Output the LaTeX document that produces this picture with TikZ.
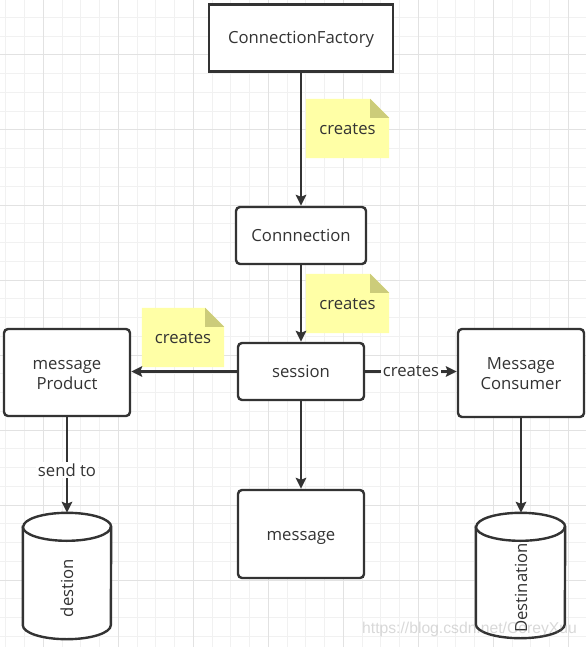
\documentclass[tikz,border=0pt]{standalone}
\usepackage{fontspec}
\setmainfont{Open Sans}
\newfontfamily\wmfont{Liberation Sans}
\usetikzlibrary{arrows.meta}
\definecolor{ink}{HTML}{333333}
\definecolor{gridminor}{HTML}{F1F1F1}
\definecolor{gridmajor}{HTML}{E2E2E2}
\definecolor{notefill}{HTML}{FFFFA6}
\definecolor{notefold}{HTML}{CCCC7A}
\pgfdeclarelayer{gridlayer}
\pgfdeclarelayer{notelayer}
\pgfsetlayers{gridlayer,notelayer,main}
\begin{document}
\begin{tikzpicture}[x=1pt,y=1pt,
  font=\fontsize{16.7}{20}\selectfont, text=ink,
  box/.style={draw=ink, line width=2.4pt, fill=white, inner sep=0pt, align=center},
  rbox/.style={box, rounded corners=4pt},
  oneline/.style={text height=15pt, text depth=3pt},
  twoline/.style={text height=35pt, text depth=2pt},
  conn/.style={draw=ink, line width=2.2pt, -{Stealth[length=11pt,width=10.5pt,inset=2pt]}},
  elabel/.style={fill=white, inner sep=1.5pt},
  notebox/.style={inner sep=0pt, oneline},
  cylbox/.style={inner sep=0pt},
  cylline/.style={draw=ink, line width=2.4pt, fill=white}
]
\useasboundingbox (0,0) rectangle (586,-647);
\begin{pgfonlayer}{gridlayer}
  \fill[white] (0,0) rectangle (586,-647);
  \foreach \i in {0,...,31} {\draw[gridminor, line width=1pt] ({5.8+18.75*\i},0) -- ++(0,-647);}
  \foreach \j in {0,...,34} {\draw[gridminor, line width=1pt] (0,{-17.5-18.75*\j}) -- ++(586,0);}
  \foreach \i in {0,...,7} {\draw[gridmajor, line width=1pt] ({43.3+75*\i},0) -- ++(0,-647);}
  \foreach \j in {0,...,7} {\draw[gridmajor, line width=1pt] (0,{-55-75*\j}) -- ++(586,0);}
\end{pgfonlayer}

% boxes
\node[box, oneline, minimum width=184.5, minimum height=67] (cf) at (301,-38) {ConnectionFactory};
\node[rbox, oneline, minimum width=130, minimum height=57] (conn) at (301,-235.5) {Connnection};
\node[rbox, oneline, minimum width=126, minimum height=57] (sess) at (301,-371.5) {session};
\node[rbox, twoline, minimum width=126, minimum height=87] (prod) at (67,-372.5) {\begin{tabular}[b]{@{}c@{}}message\\Product\end{tabular}};
\node[rbox, twoline, minimum width=126, minimum height=88] (cons) at (521,-373) {\begin{tabular}[b]{@{}c@{}}Message\\Consumer\end{tabular}};
\node[rbox, oneline, minimum width=126, minimum height=88] (msg) at (301,-534) {message};

% cylinders
\node[cylbox, minimum width=88, minimum height=126] (dl) at (67,-576) {};
\node[cylbox, minimum width=89, minimum height=125] (dr) at (520.5,-575.5) {};
\foreach \c/\rx in {dl/44, dr/44.5} {
  \draw[cylline] ([yshift=-14pt]\c.north west) -- ([yshift=14pt]\c.south west)
     arc[start angle=180, end angle=360, x radius=\rx pt, y radius=14pt]
     -- ([yshift=-14pt]\c.north east)
     arc[start angle=0, end angle=180, x radius=\rx pt, y radius=14pt] -- cycle;
  \draw[draw=ink, line width=2.4pt] ([yshift=-14pt]\c.north west)
     arc[start angle=180, end angle=360, x radius=\rx pt, y radius=14pt];
}
\node[rotate=90, oneline] (dltext) at (67,-588) {destion};
\node[rotate=90, oneline] (drtext) at (521,-588) {Destination};

% notes
\node[notebox, minimum width=83, minimum height=59] (n1) at (347.5,-128.5) {creates};
\node[notebox, minimum width=83, minimum height=59] (n2) at (347.5,-303.5) {creates};
\node[notebox, minimum width=82, minimum height=59] (n3) at (183,-337.5) {creates};
\begin{pgfonlayer}{notelayer}
\foreach \n in {n1,n2,n3} {
  \fill[notefill] (\n.north west) -- ([xshift=-19pt]\n.north east) -- ([yshift=-19pt]\n.north east)
     -- (\n.south east) -- (\n.south west) -- cycle;
  \fill[notefold] ([xshift=-19pt]\n.north east) -- ([yshift=-19pt]\n.north east)
     -- ([xshift=-19pt,yshift=-19pt]\n.north east) -- cycle;
}
\end{pgfonlayer}

% connectors
\draw[conn] (cf) -- (conn);
\draw[conn] (conn) -- (sess);
\draw[conn] (sess) -- (msg);
\draw[conn] (sess.west) -- (sess.west -| prod.east);
\draw[conn] (sess.east) -- (sess.east -| cons.west) node[elabel, midway] {creates};
\draw[conn] (prod.south) -- (dl.north) node[elabel, pos=0.55] {send to};
\draw[conn] (cons.south) -- (cons.south |- dr.north);

% watermark
\node[text=black!50, text opacity=0.3, font=\wmfont\fontsize{15.7}{18}\selectfont, inner sep=0pt] (wm) at (469.5,-629) {https://blog.csdn.net/CoreyXuu};
\end{tikzpicture}
\end{document}
